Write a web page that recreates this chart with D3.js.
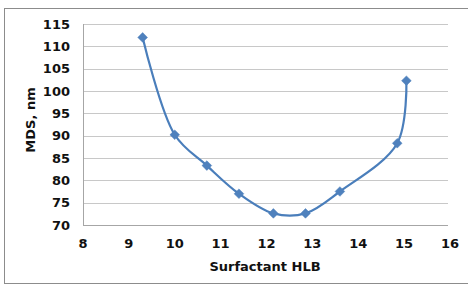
<!DOCTYPE html>
<html>
<head>
<meta charset="utf-8">
<script src="https://cdn.jsdelivr.net/npm/d3@7"></script>
<style>
  body { margin: 0; background: #fff; }
  text { font-family: "DejaVu Sans", Verdana, sans-serif; font-weight: bold; fill: #111; }
</style>
</head>
<body>
<svg id="chart" width="468" height="286"></svg>
<script>
// values
const hlb = [9.3, 10.0, 10.7, 11.4, 12.15, 12.85, 13.6, 14.85, 15.05];
const mds = [112, 90.2, 83.3, 77.0, 72.6, 72.6, 77.5, 88.3, 102.3];
const xTicks = [8, 9, 10, 11, 12, 13, 14, 15, 16];
const yTicks = [70, 75, 80, 85, 90, 95, 100, 105, 110, 115];

const svg = d3.select('#chart');
const plot = { left: 83, right: 448, top: 24, bottom: 225 };

// outer frame
svg.append('rect')
  .attr('x', 4.5).attr('y', 8.5)
  .attr('width', 470).attr('height', 275)
  .attr('fill', 'none')
  .attr('stroke', '#8c8c8c');

const x = d3.scaleLinear().domain([8, 16]).range([plot.left, plot.right + 2]);
const y = d3.scaleLinear().domain([70, 115]).range([plot.bottom, plot.top]);

// gridlines
svg.append('g')
  .selectAll('line')
  .data(yTicks)
  .enter().append('line')
  .attr('x1', plot.left).attr('x2', plot.right)
  .attr('y1', d => Math.round(y(d)) + 0.5)
  .attr('y2', d => Math.round(y(d)) + 0.5)
  .attr('stroke', d => d === 70 ? '#a6a6a6' : '#c8c8c8');

// left axis line
svg.append('line')
  .attr('x1', plot.left + 0.5).attr('x2', plot.left + 0.5)
  .attr('y1', plot.top).attr('y2', plot.bottom)
  .attr('stroke', '#a6a6a6');

// y tick labels
svg.append('g')
  .selectAll('text')
  .data(yTicks)
  .enter().append('text')
  .attr('x', plot.left - 13)
  .attr('y', d => y(d))
  .attr('dy', '0.36em')
  .attr('text-anchor', 'end')
  .style('font-size', '13px')
  .text(d => d);

// x tick labels
svg.append('g')
  .selectAll('text')
  .data(xTicks)
  .enter().append('text')
  .attr('x', d => x(d))
  .attr('y', 248)
  .attr('text-anchor', 'middle')
  .style('font-size', '13px')
  .text(d => d);

// axis titles
svg.append('text')
  .attr('x', 265).attr('y', 271)
  .attr('text-anchor', 'middle')
  .style('font-size', '13px')
  .text('Surfactant HLB');

svg.append('text')
  .attr('transform', 'translate(35,120) rotate(-90)')
  .attr('text-anchor', 'middle')
  .style('font-size', '13px')
  .text('MDS, nm');

// smoothed series line
const pts = hlb.map((h, i) => [h, mds[i]]);
const line = d3.line()
  .x(d => x(d[0]))
  .y(d => y(d[1]))
  .curve(d3.curveCatmullRom.alpha(0.5));

svg.append('path')
  .datum(pts)
  .attr('d', line)
  .attr('fill', 'none')
  .attr('stroke', '#4a7ebb')
  .attr('stroke-width', 2.2);

// diamond markers
svg.append('g')
  .selectAll('path')
  .data(pts)
  .enter().append('path')
  .attr('d', d3.symbol().type(d3.symbolDiamond2).size(60))
  .attr('transform', d => 'translate(' + x(d[0]) + ',' + y(d[1]) + ')')
  .attr('fill', '#4f81bd')
  .attr('stroke', '#4a7ebb')
  .attr('stroke-width', 0.5);
</script>
</body>
</html>
